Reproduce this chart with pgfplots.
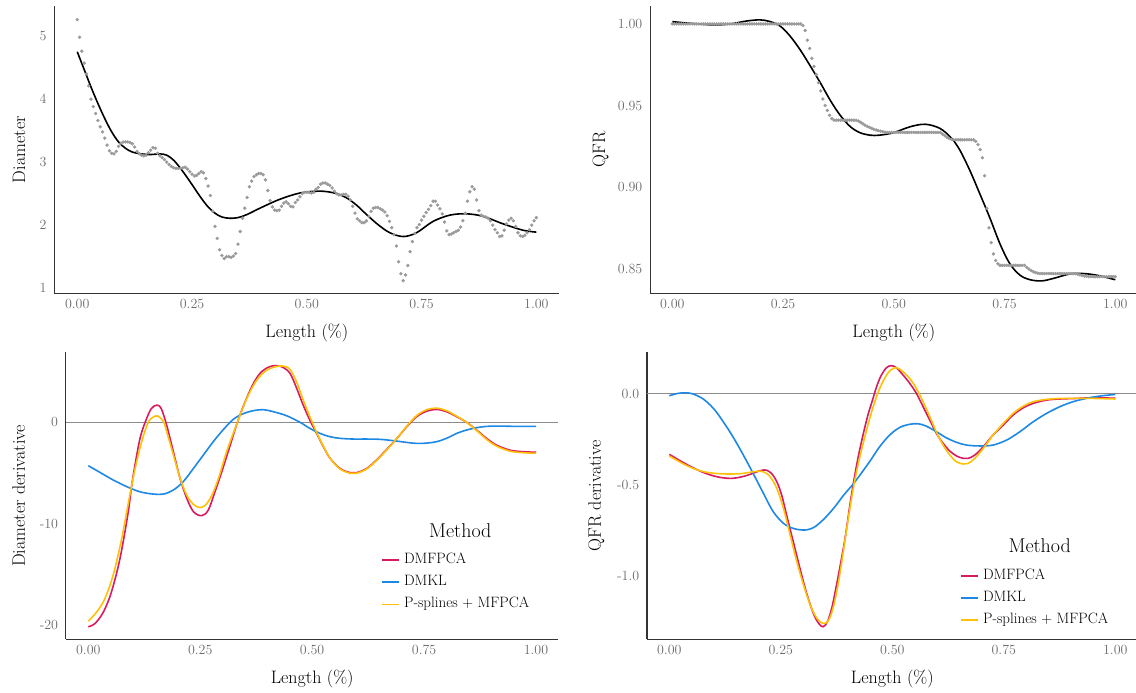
\documentclass[border=0pt]{standalone}
\usepackage{fontspec}
\usepackage{pgfplots}
\pgfplotsset{compat=1.18}
\definecolor{cRed}{HTML}{D81B60}
\definecolor{cBlue}{HTML}{1E88E5}
\definecolor{cYel}{HTML}{FFC107}
\definecolor{cDot}{HTML}{9A9A9A}
\pgfplotsset{
  panel/.style={
    scale only axis,
    anchor=south west,
    axis lines=left,
    axis line style={-, draw=black!80, line width=1.1pt},
    major tick length=0pt,
    tick style={draw=none},
    xmin=-0.05, xmax=1.05,
    xtick={0,0.25,0.5,0.75,1},
    xticklabels={0.00,0.25,0.50,0.75,1.00},
    tick label style={font=\fontsize{14}{16}\selectfont, text=black!58},
    xticklabel style={yshift=-2pt},
    yticklabel style={xshift=-4.3pt},
    label style={font=\fontsize{18}{21}\selectfont},
    clip=false,
  },
  dline/.style={line width=1.6pt, smooth, tension=0.55, no markers},
  dots/.style={color=cDot, only marks, mark=*, mark size=1.5pt},
  leg/.style={
    legend cell align=left,
    legend image code/.code={\draw[##1, line width=1.6pt] (0pt,0pt) -- (17pt,0pt);},
    legend style={anchor=north west, draw=none, fill=none, inner sep=0pt, outer sep=0pt,
      row sep=7.2pt, font=\fontsize{15}{18}\selectfont,
      nodes={inner sep=0pt, text height=11pt, text depth=4pt},
      /tikz/every odd column/.append style={column sep=3.8pt}},
  },
}
\begin{document}
\begin{tikzpicture}
\useasboundingbox (0,0) rectangle (1136pt,693pt);
% ---------------- top left
\begin{axis}[panel, at={(54.3pt,399.7pt)}, width=505pt, height=287.3pt,
  ymin=0.92, ymax=5.476, ytick={1,2,3,4,5}, yticklabels={1,2,3,4,5},
  xlabel={Length (\%)}, ylabel={Diameter},
  xlabel style={at={(axis description cs:0.5,-0.1549)}, anchor=base},
  ylabel style={at={(axis description cs:-0.058,0.5)}, anchor=base}]
\addplot[dots] coordinates {
(0.000,5.26)(0.005,4.98)(0.010,4.76)(0.015,4.57)(0.020,4.40)(0.025,4.21)(0.030,4.00)(0.035,3.88)(0.040,3.77)(0.045,3.66)
(0.050,3.56)(0.055,3.48)(0.060,3.38)(0.065,3.27)(0.070,3.18)(0.075,3.14)(0.080,3.13)(0.085,3.17)(0.090,3.25)(0.095,3.30)
(0.100,3.32)(0.105,3.32)(0.110,3.32)(0.115,3.31)(0.120,3.29)(0.125,3.24)(0.130,3.17)(0.135,3.13)(0.140,3.11)(0.145,3.10)
(0.150,3.11)(0.155,3.15)(0.160,3.19)(0.165,3.23)(0.170,3.22)(0.175,3.14)(0.180,3.10)(0.185,3.07)(0.190,3.04)(0.195,3.00)
(0.200,2.96)(0.205,2.93)(0.210,2.91)(0.215,2.90)(0.220,2.90)(0.225,2.90)(0.230,2.91)(0.235,2.92)(0.240,2.89)(0.245,2.85)
(0.250,2.81)(0.255,2.78)(0.260,2.79)(0.265,2.82)(0.270,2.85)(0.275,2.83)(0.280,2.74)(0.285,2.62)(0.290,2.47)(0.295,2.22)
(0.300,1.98)(0.305,1.79)(0.310,1.61)(0.315,1.52)(0.320,1.47)(0.325,1.50)(0.330,1.50)(0.335,1.49)(0.340,1.51)(0.345,1.55)
(0.350,1.70)(0.355,1.90)(0.360,2.11)(0.365,2.27)(0.370,2.44)(0.375,2.61)(0.380,2.70)(0.385,2.77)(0.390,2.80)(0.395,2.82)
(0.400,2.82)(0.405,2.80)(0.410,2.72)(0.415,2.55)(0.420,2.39)(0.425,2.29)(0.430,2.24)(0.435,2.23)(0.440,2.24)(0.445,2.30)
(0.450,2.35)(0.455,2.37)(0.460,2.34)(0.465,2.30)(0.470,2.29)(0.475,2.36)(0.480,2.40)(0.485,2.45)(0.490,2.50)(0.495,2.52)
(0.500,2.52)(0.505,2.52)(0.510,2.51)(0.515,2.52)(0.520,2.57)(0.525,2.60)(0.530,2.65)(0.535,2.67)(0.540,2.67)(0.545,2.65)
(0.550,2.63)(0.555,2.59)(0.560,2.54)(0.565,2.50)(0.570,2.48)(0.575,2.48)(0.580,2.49)(0.585,2.49)(0.590,2.46)(0.595,2.40)
(0.600,2.30)(0.605,2.19)(0.610,2.10)(0.615,2.07)(0.620,2.04)(0.625,2.04)(0.630,2.07)(0.635,2.14)(0.640,2.22)(0.645,2.27)
(0.650,2.28)(0.655,2.28)(0.660,2.26)(0.665,2.24)(0.670,2.21)(0.675,2.15)(0.680,2.06)(0.685,1.96)(0.690,1.85)(0.695,1.67)
(0.700,1.42)(0.705,1.23)(0.710,1.12)(0.715,1.21)(0.720,1.36)(0.725,1.58)(0.730,1.74)(0.735,1.87)(0.740,1.96)(0.745,2.01)
(0.750,2.08)(0.755,2.14)(0.760,2.20)(0.765,2.25)(0.770,2.31)(0.775,2.38)(0.780,2.38)(0.785,2.32)(0.790,2.26)(0.795,2.18)
(0.800,2.05)(0.805,1.91)(0.810,1.85)(0.815,1.86)(0.820,1.88)(0.825,1.90)(0.830,1.92)(0.835,1.97)(0.840,2.07)(0.845,2.19)
(0.850,2.38)(0.855,2.53)(0.860,2.61)(0.865,2.57)(0.870,2.40)(0.875,2.23)(0.880,2.16)(0.885,2.14)(0.890,2.13)(0.895,2.11)
(0.900,2.07)(0.905,2.00)(0.910,1.93)(0.915,1.88)(0.920,1.82)(0.925,1.83)(0.930,1.92)(0.935,2.02)(0.940,2.08)(0.945,2.11)
(0.950,2.07)(0.955,1.98)(0.960,1.88)(0.965,1.83)(0.970,1.82)(0.975,1.84)(0.980,1.88)(0.985,1.93)(0.990,2.00)(0.995,2.07)
(1.000,2.12)};
\addplot[black, dline] coordinates {
(0,4.75)(0.015,4.47)(0.030,4.19)(0.045,3.93)(0.060,3.69)(0.075,3.48)(0.090,3.32)(0.105,3.22)(0.120,3.16)(0.140,3.13)
(0.160,3.12)(0.180,3.13)(0.195,3.11)(0.210,3.03)(0.225,2.90)(0.240,2.75)(0.255,2.59)(0.270,2.43)(0.285,2.29)(0.300,2.19)
(0.315,2.13)(0.332,2.11)(0.350,2.12)(0.370,2.17)(0.398,2.27)(0.441,2.41)(0.485,2.51)(0.528,2.54)(0.560,2.51)(0.585,2.44)
(0.608,2.32)(0.630,2.17)(0.655,2.01)(0.681,1.88)(0.710,1.82)(0.739,1.88)(0.775,2.06)(0.812,2.16)(0.848,2.18)(0.884,2.14)
(0.928,2.02)(0.971,1.92)(1.0,1.89)};
\end{axis}
% ---------------- top right
\begin{axis}[panel, at={(650.15pt,399.7pt)}, width=487.3pt, height=287.3pt,
  ymin=0.8349, ymax=1.011, ytick={0.85,0.9,0.95,1}, yticklabels={0.85,0.90,0.95,1.00},
  xlabel={Length (\%)}, ylabel={QFR},
  xlabel style={at={(axis description cs:0.5,-0.1549)}, anchor=base},
  ylabel style={at={(axis description cs:-0.0923,0.5)}, anchor=base}]
\addplot[dots] coordinates {
(0.000,1.000)(0.005,1.000)(0.010,1.000)(0.015,1.000)(0.020,1.000)(0.025,1.000)(0.030,1.000)(0.035,1.000)(0.040,1.000)(0.045,1.000)
(0.050,1.000)(0.055,1.000)(0.060,1.000)(0.065,1.000)(0.070,1.000)(0.075,1.000)(0.080,1.000)(0.085,1.000)(0.090,1.000)(0.095,1.000)
(0.100,1.000)(0.105,1.000)(0.110,1.000)(0.115,1.000)(0.120,1.000)(0.125,1.000)(0.130,1.000)(0.135,1.000)(0.140,1.000)(0.145,1.000)
(0.150,1.000)(0.155,1.000)(0.160,1.000)(0.165,1.000)(0.170,1.000)(0.175,1.000)(0.180,1.000)(0.185,1.000)(0.190,1.000)(0.195,1.000)
(0.200,1.000)(0.205,1.000)(0.210,1.000)(0.215,1.000)(0.220,1.000)(0.225,1.000)(0.230,1.000)(0.235,1.000)(0.240,1.000)(0.245,1.000)
(0.250,1.000)(0.255,1.000)(0.260,1.000)(0.265,1.000)(0.270,1.000)(0.275,1.000)(0.280,1.000)(0.285,1.000)(0.290,1.000)(0.295,0.999)
(0.300,0.996)(0.305,0.990)(0.310,0.985)(0.315,0.979)(0.320,0.974)(0.325,0.969)(0.330,0.964)(0.335,0.959)(0.340,0.954)(0.345,0.950)
(0.350,0.947)(0.355,0.944)(0.360,0.942)(0.365,0.941)(0.370,0.941)(0.375,0.941)(0.380,0.941)(0.385,0.941)(0.390,0.941)(0.395,0.941)
(0.400,0.941)(0.405,0.941)(0.410,0.941)(0.415,0.941)(0.420,0.9405)(0.425,0.9397)(0.430,0.9388)(0.435,0.9380)(0.440,0.9372)(0.445,0.9366)
(0.450,0.9360)(0.455,0.9355)(0.460,0.9350)(0.465,0.9346)(0.470,0.9343)(0.475,0.9340)(0.480,0.9337)(0.485,0.9335)(0.490,0.9335)(0.495,0.9335)
(0.500,0.9335)(0.505,0.9335)(0.510,0.9335)(0.515,0.9335)(0.520,0.9335)(0.525,0.9335)(0.530,0.9335)(0.535,0.9335)(0.540,0.9335)(0.545,0.9335)
(0.550,0.9335)(0.555,0.9335)(0.560,0.9335)(0.565,0.9335)(0.570,0.9335)(0.575,0.9335)(0.580,0.9335)(0.585,0.9335)(0.590,0.9335)(0.595,0.9335)
(0.600,0.9335)(0.605,0.9335)(0.610,0.9325)(0.615,0.9315)(0.620,0.9305)(0.625,0.9298)(0.630,0.9293)(0.635,0.929)(0.640,0.929)(0.645,0.929)
(0.650,0.929)(0.655,0.929)(0.660,0.929)(0.665,0.929)(0.670,0.929)(0.675,0.929)(0.680,0.929)(0.685,0.928)(0.690,0.926)(0.695,0.923)
(0.700,0.918)(0.705,0.907)(0.710,0.887)(0.715,0.875)(0.720,0.866)(0.725,0.859)(0.730,0.855)(0.735,0.853)(0.740,0.852)(0.745,0.852)
(0.750,0.852)(0.755,0.852)(0.760,0.852)(0.765,0.852)(0.770,0.852)(0.775,0.852)(0.780,0.852)(0.785,0.852)(0.790,0.852)(0.795,0.852)
(0.800,0.8508)(0.805,0.8498)(0.810,0.8488)(0.815,0.8481)(0.820,0.8476)(0.825,0.8472)(0.830,0.847)(0.835,0.847)(0.840,0.847)(0.845,0.847)
(0.850,0.847)(0.855,0.847)(0.860,0.847)(0.865,0.847)(0.870,0.847)(0.875,0.847)(0.880,0.847)(0.885,0.847)(0.890,0.847)(0.895,0.847)
(0.900,0.847)(0.905,0.847)(0.910,0.847)(0.915,0.8466)(0.920,0.8462)(0.925,0.8458)(0.930,0.8455)(0.935,0.8453)(0.940,0.8451)(0.945,0.8451)
(0.950,0.8451)(0.955,0.8451)(0.960,0.8451)(0.965,0.8451)(0.970,0.8451)(0.975,0.8451)(0.980,0.8451)(0.985,0.8451)(0.990,0.8451)(0.995,0.8451)
(1.000,0.8451)};
\addplot[black, dline] coordinates {
(0,1.0014)(0.040,1.0004)(0.093,0.9994)(0.130,1.0000)(0.168,1.0018)(0.198,1.0025)(0.220,1.0015)(0.243,0.9988)(0.266,0.9925)
(0.289,0.984)(0.312,0.974)(0.334,0.964)(0.357,0.953)(0.379,0.944)(0.402,0.937)(0.424,0.9333)(0.447,0.9318)(0.467,0.9318)
(0.499,0.9333)(0.537,0.9370)(0.571,0.9385)(0.604,0.936)(0.630,0.930)(0.649,0.9227)(0.672,0.910)(0.694,0.896)(0.717,0.881)
(0.740,0.865)(0.762,0.853)(0.785,0.846)(0.808,0.8432)(0.834,0.8425)(0.860,0.8440)(0.898,0.8468)(0.928,0.8470)(0.958,0.8460)
(0.980,0.8446)(1.0,0.8432)};
\end{axis}
% ---------------- bottom left
\begin{axis}[panel, leg, at={(65.9pt,53.7pt)}, width=492.5pt, height=287pt,
  ymin=-21.41, ymax=6.91, ytick={-20,-10,0}, yticklabels={-20,-10,0},
  xlabel={Length (\%)}, ylabel={Diameter derivative},
  xlabel style={at={(axis description cs:0.5,-0.1557)}, anchor=base},
  ylabel style={at={(axis description cs:-0.0832,0.5)}, anchor=base},
  legend style={at={(rel axis cs:0.6412,0.3024)}}]
\addplot[forget plot, black!45, line width=0.8pt] coordinates {(-0.05,0)(1.05,0)};
\addplot[cRed, dline] coordinates {
(0,-20.17)(0.015,-19.85)(0.034,-18.7)(0.052,-16.7)(0.071,-13.4)(0.089,-8.9)(0.097,-6.2)(0.106,-3.8)(0.116,-1.5)(0.127,0)
(0.140,1.3)(0.153,1.7)(0.163,1.35)(0.175,-0.27)(0.190,-2.9)(0.205,-5.53)(0.220,-7.5)(0.235,-8.82)(0.253,-9.21)(0.268,-8.66)
(0.283,-6.85)(0.298,-4.9)(0.317,-2.25)(0.333,0)(0.350,2.0)(0.369,3.85)(0.387,5.0)(0.406,5.5)(0.421,5.6)(0.436,5.4)
(0.451,4.8)(0.465,3.4)(0.480,1.7)(0.495,0.2)(0.510,-1.1)(0.525,-2.4)(0.540,-3.55)(0.562,-4.55)(0.585,-4.97)(0.599,-4.97)
(0.622,-4.55)(0.644,-3.7)(0.666,-2.7)(0.689,-1.6)(0.711,-0.45)(0.733,0.55)(0.756,1.1)(0.778,1.27)(0.800,1.05)(0.823,0.55)
(0.845,0)(0.867,-0.75)(0.890,-1.6)(0.912,-2.25)(0.942,-2.75)(0.972,-2.9)(1.0,-2.95)};
\addlegendentry{DMFPCA}
\addplot[cBlue, dline] coordinates {
(0,-4.28)(0.026,-4.94)(0.056,-5.7)(0.086,-6.35)(0.115,-6.85)(0.145,-7.08)(0.168,-7.08)(0.190,-6.68)(0.212,-5.86)(0.235,-4.54)
(0.257,-3.23)(0.279,-1.92)(0.302,-0.7)(0.324,0.3)(0.346,0.85)(0.369,1.15)(0.391,1.25)(0.413,1.05)(0.443,0.65)(0.473,0)
(0.495,-0.6)(0.518,-1.1)(0.540,-1.42)(0.562,-1.58)(0.592,-1.65)(0.622,-1.65)(0.652,-1.68)(0.681,-1.81)(0.711,-1.98)(0.733,-2.08)
(0.756,-2.05)(0.778,-1.91)(0.800,-1.58)(0.823,-1.09)(0.845,-0.76)(0.867,-0.53)(0.890,-0.4)(0.912,-0.37)(0.957,-0.4)(1.0,-0.4)};
\addlegendentry{DMKL}
\addplot[cYel, dline] coordinates {
(0,-19.62)(0.019,-18.7)(0.037,-17.4)(0.056,-15.0)(0.074,-11.6)(0.086,-8.8)(0.097,-6.2)(0.108,-3.9)(0.120,-1.8)(0.134,0)
(0.146,0.55)(0.155,0.62)(0.163,0.35)(0.169,0)(0.175,-0.9)(0.190,-3.2)(0.205,-5.5)(0.220,-7.2)(0.235,-8.1)(0.248,-8.4)
(0.261,-8.2)(0.276,-7.2)(0.291,-5.5)(0.309,-2.9)(0.333,0)(0.354,2.35)(0.376,4.15)(0.399,5.15)(0.425,5.55)(0.440,5.5)
(0.451,5.2)(0.465,4.0)(0.480,2.2)(0.495,0.55)(0.510,-1.0)(0.525,-2.35)(0.540,-3.55)(0.562,-4.6)(0.585,-5.03)(0.599,-5.03)
(0.622,-4.6)(0.644,-3.75)(0.666,-2.75)(0.689,-1.6)(0.711,-0.4)(0.733,0.65)(0.756,1.25)(0.778,1.4)(0.800,1.15)(0.823,0.6)
(0.845,0)(0.867,-0.8)(0.890,-1.7)(0.912,-2.35)(0.942,-2.85)(0.972,-3.0)(1.0,-3.05)};
\addlegendentry{P-splines + MFPCA}
\node[anchor=base, font=\fontsize{20}{24}\selectfont] at (rel axis cs:0.8008,0.354) {Method};
\end{axis}
% ---------------- bottom right
\begin{axis}[panel, leg, at={(647pt,53.7pt)}, width=490.6pt, height=287pt,
  ymin=-1.349, ymax=0.2275, ytick={-1,-0.5,0}, yticklabels={-1.0,-0.5,0.0},
  xlabel={Length (\%)}, ylabel={QFR derivative},
  xlabel style={at={(axis description cs:0.5,-0.1557)}, anchor=base},
  ylabel style={at={(axis description cs:-0.0938,0.5)}, anchor=base},
  legend style={at={(rel axis cs:0.6394,0.2477)}}]
\addplot[forget plot, black!45, line width=0.8pt] coordinates {(-0.05,0)(1.05,0)};
\addplot[cRed, dline] coordinates {
(0,-0.333)(0.020,-0.362)(0.040,-0.390)(0.060,-0.415)(0.080,-0.436)(0.100,-0.452)(0.120,-0.462)(0.140,-0.465)(0.160,-0.458)(0.180,-0.444)
(0.195,-0.430)(0.207,-0.421)(0.218,-0.42)(0.230,-0.44)(0.241,-0.483)(0.252,-0.557)(0.263,-0.667)(0.278,-0.813)(0.293,-0.960)(0.308,-1.097)
(0.323,-1.207)(0.335,-1.262)(0.345,-1.280)(0.355,-1.25)(0.365,-1.17)(0.375,-1.05)(0.385,-0.92)(0.395,-0.78)(0.405,-0.61)(0.415,-0.46)
(0.425,-0.33)(0.435,-0.22)(0.445,-0.12)(0.455,-0.04)(0.465,0.04)(0.475,0.10)(0.487,0.143)(0.498,0.154)(0.509,0.143)(0.524,0.103)
(0.539,0.057)(0.554,0.002)(0.569,-0.071)(0.584,-0.145)(0.599,-0.218)(0.614,-0.273)(0.629,-0.315)(0.644,-0.342)(0.659,-0.355)(0.670,-0.355)
(0.685,-0.337)(0.704,-0.291)(0.726,-0.227)(0.749,-0.172)(0.771,-0.117)(0.794,-0.077)(0.816,-0.053)(0.846,-0.035)(0.876,-0.029)(0.913,-0.026)
(0.951,-0.022)(1.0,-0.025)};
\addlegendentry{DMFPCA}
\addplot[cBlue, dline] coordinates {
(0,-0.011)(0.020,0.002)(0.038,0.005)(0.054,-0.002)(0.076,-0.029)(0.099,-0.081)(0.121,-0.154)(0.144,-0.242)(0.166,-0.337)(0.188,-0.438)
(0.211,-0.547)(0.233,-0.648)(0.256,-0.712)(0.278,-0.74)(0.301,-0.749)(0.316,-0.743)(0.330,-0.725)(0.350,-0.68)(0.370,-0.625)(0.390,-0.56)
(0.411,-0.50)(0.428,-0.445)(0.450,-0.37)(0.472,-0.29)(0.495,-0.225)(0.517,-0.185)(0.539,-0.168)(0.558,-0.165)(0.576,-0.178)(0.599,-0.209)
(0.621,-0.242)(0.644,-0.267)(0.666,-0.282)(0.696,-0.287)(0.726,-0.282)(0.756,-0.255)(0.786,-0.209)(0.816,-0.154)(0.846,-0.108)(0.876,-0.071)
(0.905,-0.044)(0.935,-0.026)(0.965,-0.013)(1.0,-0.004)};
\addlegendentry{DMKL}
\addplot[cYel, dline] coordinates {
(0,-0.342)(0.020,-0.370)(0.040,-0.396)(0.060,-0.416)(0.080,-0.430)(0.100,-0.437)(0.130,-0.441)(0.160,-0.439)(0.185,-0.430)(0.203,-0.425)
(0.215,-0.434)(0.226,-0.456)(0.241,-0.520)(0.256,-0.630)(0.271,-0.777)(0.286,-0.923)(0.301,-1.051)(0.316,-1.161)(0.331,-1.234)(0.345,-1.262)
(0.357,-1.245)(0.368,-1.17)(0.379,-1.04)(0.390,-0.87)(0.401,-0.69)(0.414,-0.50)(0.425,-0.37)(0.437,-0.25)(0.449,-0.14)(0.460,-0.05)
(0.472,0.03)(0.487,0.103)(0.498,0.133)(0.510,0.143)(0.524,0.121)(0.539,0.084)(0.554,0.029)(0.569,-0.044)(0.584,-0.126)(0.599,-0.212)
(0.614,-0.282)(0.629,-0.337)(0.644,-0.374)(0.659,-0.386)(0.670,-0.383)(0.685,-0.355)(0.704,-0.300)(0.726,-0.227)(0.749,-0.163)(0.771,-0.108)
(0.794,-0.068)(0.816,-0.044)(0.846,-0.031)(0.876,-0.026)(0.913,-0.026)(0.951,-0.026)(1.0,-0.029)};
\addlegendentry{P-splines + MFPCA}
\node[anchor=base, font=\fontsize{20}{24}\selectfont] at (rel axis cs:0.8004,0.3007) {Method};
\end{axis}
\end{tikzpicture}
\end{document}
